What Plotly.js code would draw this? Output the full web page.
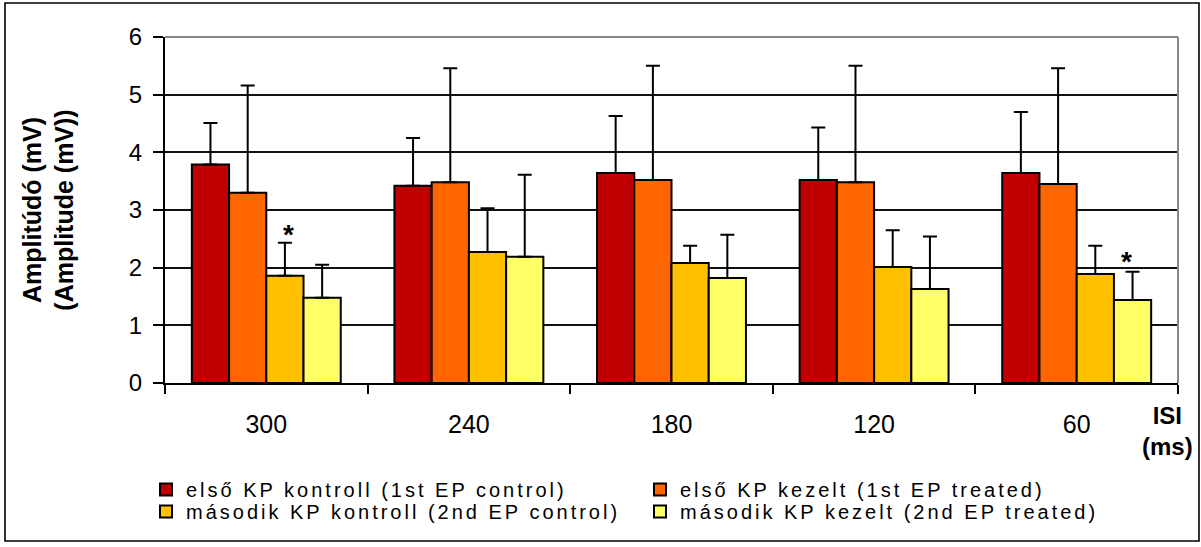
<!DOCTYPE html>
<html><head><meta charset="utf-8">
<script src="https://cdn.plot.ly/plotly-3.0.1.min.js"></script>
<style>
html,body{margin:0;padding:0;background:#fff;}
#chart{width:1201px;height:547px;}
text.legendtext, text.legend2text{letter-spacing:3px;}
</style></head><body><div id="chart"></div>
<script>
// ---- data ----
const categories = ['300', '240', '180', '120', '60'];
const seriesNames = [
  'első KP kontroll (1st EP control)',
  'első KP kezelt (1st EP treated)',
  'második KP kontroll (2nd EP control)',
  'második KP kezelt (2nd EP treated)'
];
const firstControl      = [3.79, 3.42, 3.64, 3.52, 3.64];
const firstControlErr   = [0.72, 0.83, 0.99, 0.91, 1.06];
const firstTreated      = [3.30, 3.48, 3.52, 3.48, 3.45];
const firstTreatedErr   = [1.86, 1.98, 1.98, 2.02, 2.01];
const secondControl     = [1.86, 2.27, 2.08, 2.01, 1.89];
const secondControlErr  = [0.57, 0.76, 0.30, 0.64, 0.49];
const secondTreated     = [1.48, 2.19, 1.82, 1.63, 1.44];
const secondTreatedErr  = [0.57, 1.42, 0.75, 0.91, 0.49];
const yTickValues = [0, 1, 2, 3, 4, 5, 6];
const sigSeries   = [2, 3];          // series index with asterisk
const sigCategory = ['300', '60'];   // category of asterisk
const yTitle = 'Amplitúdó (mV)<br>(Amplitude (mV))';
const xTitle = 'ISI<br>(ms)';

// ---- styling / layout ----
const W = 1201, H = 547;
const M = {l: 165, r: 23, t: 37, b: 164};
const PW = W - M.l - M.r, PH = H - M.t - M.b;
const px = x => (x - M.l) / PW;
const py = y => (H - M.b - y) / PH;
const colors = ['#C00000', '#FF6600', '#FFC000', '#FFFF66'];
const BARGAP = 0.265;
const FONT = 'Liberation Sans, Arial, sans-serif';

const values = [firstControl, firstTreated, secondControl, secondTreated];
const errs = [firstControlErr, firstTreatedErr, secondControlErr, secondTreatedErr];

const traces = values.map((v, i) => ({
  type: 'bar',
  name: seriesNames[i],
  x: categories,
  y: v,
  legend: i < 2 ? 'legend' : 'legend2',
  marker: {color: colors[i], line: {color: '#000', width: 2}},
  error_y: {type: 'data', symmetric: false, array: errs[i],
            arrayminus: errs[i].map(() => 0), color: '#000', thickness: 2, width: 7},
  hoverinfo: 'x+y'
}));

const barW = (1 - BARGAP) / values.length;
const sigShift = [-9, -7];
const annotations = sigSeries.map((s, j) => {
  const ci = categories.indexOf(sigCategory[j]);
  return {
    x: ci + (s - (values.length - 1) / 2) * barW,
    y: values[s][ci] + errs[s][ci],
    xref: 'x', yref: 'y', text: '<b>*</b>', showarrow: false,
    yanchor: 'bottom', yshift: sigShift[j], xshift: j === 0 ? 4 : -6,
    font: {family: FONT, size: 28, color: '#000'}
  };
});
annotations.push({
  x: px(1167), y: py(431), xref: 'paper', yref: 'paper',
  text: '<b>' + xTitle + '</b>', showarrow: false,
  xanchor: 'center', yanchor: 'middle',
  font: {family: FONT, size: 24, color: '#000'}
});

const legendCommon = {
  orientation: 'h', xanchor: 'left', yanchor: 'top',
  entrywidth: 449, entrywidthmode: 'pixels',
  font: {family: FONT, size: 20, color: '#000'},
  bgcolor: 'rgba(0,0,0,0)', borderwidth: 0, traceorder: 'normal'
};

const layout = {
  width: W, height: H,
  margin: M,
  paper_bgcolor: '#fff', plot_bgcolor: '#fff',
  barmode: 'group', bargap: BARGAP, bargroupgap: 0,
  font: {family: FONT, color: '#000'},
  xaxis: {
    type: 'category', categoryorder: 'array', categoryarray: categories,
    showline: true, linecolor: '#000', linewidth: 2,
    ticks: 'outside', tickson: 'boundaries', ticklen: 9, tickwidth: 2, tickcolor: '#000',
    ticklabelstandoff: 18,
    tickfont: {family: FONT, size: 25, color: '#000'},
    showgrid: false, zeroline: false, fixedrange: true
  },
  yaxis: {
    range: [0, 6], tickvals: yTickValues, ticktext: yTickValues.map(String),
    showline: true, linecolor: '#000', linewidth: 2,
    ticks: 'outside', ticklen: 10, tickwidth: 2, tickcolor: '#000',
    ticklabelstandoff: 6,
    tickfont: {family: FONT, size: 24, color: '#000'},
    showgrid: true, gridcolor: '#111', gridwidth: 2, zeroline: false,
    title: {text: '<b>' + yTitle + '</b>', font: {family: FONT, size: 25, color: '#000'}, standoff: 48},
    fixedrange: true
  },
  legend: Object.assign({}, legendCommon, {x: px(146), y: py(470)}),
  legend2: Object.assign({}, legendCommon, {x: px(146), y: py(492)}),
  annotations: annotations,
  shapes: [
    {type: 'line', xref: 'paper', yref: 'paper', x0: 0, x1: 1, y0: 1, y1: 1,
     line: {color: '#888', width: 2}},
    {type: 'line', xref: 'paper', yref: 'paper', x0: 1, x1: 1, y0: 0, y1: 1,
     line: {color: '#888', width: 2}},
    {type: 'rect', xref: 'paper', yref: 'paper', x0: px(5), x1: px(1199), y0: py(541), y1: py(3),
     line: {color: '#000', width: 1.6}, fillcolor: 'rgba(0,0,0,0)', layer: 'below'}
  ],
  showlegend: true
};

Plotly.newPlot('chart', traces, layout, {staticPlot: true, displayModeBar: false});
</script></body></html>
